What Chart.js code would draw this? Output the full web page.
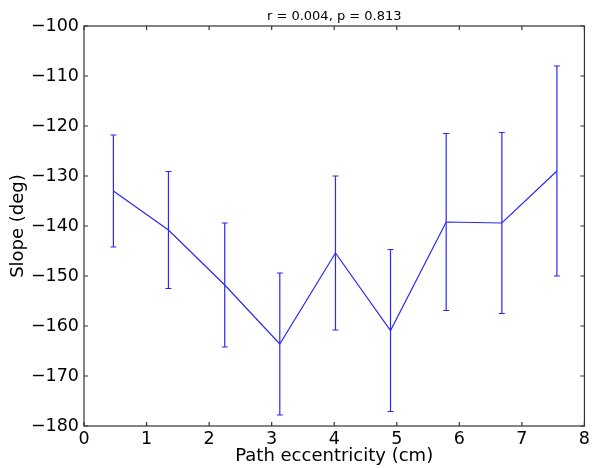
<!DOCTYPE html>
<html>
<head>
<meta charset="utf-8">
<script src="https://cdn.jsdelivr.net/npm/chart.js@4/dist/chart.umd.min.js"></script>
<style>
  html, body { margin: 0; padding: 0; background: #fff; }
  #wrap { width: 593px; height: 468px; }
</style>
</head>
<body>
<div id="wrap"><canvas id="slopeCanvas"></canvas></div>
<script>
// eccentricity bins (cm), mean slope (deg) and error half-widths
const eccentricity = [0.47, 1.35, 2.25, 3.13, 4.02, 4.9, 5.79, 6.68, 7.56];
const slopeMean = [-133.0, -140.8, -151.8, -163.6, -145.4, -160.9, -139.2, -139.4, -129.0];
const slopeErr = [11.2, 11.7, 12.4, 14.2, 15.4, 16.2, 17.7, 18.1, 21.0];
const statsTitle = 'r = 0.004, p = 0.813';

const fontFamily = '"DejaVu Sans", sans-serif';
const lineBlue = '#2a2af0';
const minus = (v) => String(v).replace('-', '\u2212');

// error bars with small caps
const errorBars = {
  id: 'errorBars',
  afterDatasetsDraw(chart) {
    const { ctx, scales: { x, y } } = chart;
    ctx.save();
    ctx.strokeStyle = lineBlue;
    ctx.lineWidth = 1.2;
    eccentricity.forEach((ex, i) => {
      const px = x.getPixelForValue(ex);
      const top = y.getPixelForValue(slopeMean[i] + slopeErr[i]);
      const bot = y.getPixelForValue(slopeMean[i] - slopeErr[i]);
      ctx.beginPath();
      ctx.moveTo(px, top);
      ctx.lineTo(px, bot);
      ctx.moveTo(px - 3, top);
      ctx.lineTo(px + 3, top);
      ctx.moveTo(px - 3, bot);
      ctx.lineTo(px + 3, bot);
      ctx.stroke();
    });
    ctx.restore();
  },
};

// box around the axes with inward ticks on all four sides,
// plus the stats line centred over the plot area
const frameTicks = {
  id: 'frameTicks',
  afterDraw(chart) {
    const { ctx, chartArea: a, scales: { x, y } } = chart;
    const len = 4;
    ctx.save();
    ctx.strokeStyle = '#333';
    ctx.lineWidth = 1.2;
    ctx.beginPath();
    x.ticks.forEach((t) => {
      const px = x.getPixelForValue(t.value);
      ctx.moveTo(px, a.bottom);
      ctx.lineTo(px, a.bottom - len);
      ctx.moveTo(px, a.top);
      ctx.lineTo(px, a.top + len);
    });
    y.ticks.forEach((t) => {
      const py = y.getPixelForValue(t.value);
      ctx.moveTo(a.left, py);
      ctx.lineTo(a.left + len, py);
      ctx.moveTo(a.right, py);
      ctx.lineTo(a.right - len, py);
    });
    ctx.stroke();
    ctx.strokeRect(a.left, a.top, a.right - a.left, a.bottom - a.top);

    ctx.fillStyle = '#000';
    ctx.font = '13px ' + fontFamily;
    ctx.textAlign = 'center';
    ctx.textBaseline = 'middle';
    ctx.fillText(statsTitle, (a.left + a.right) / 2, a.top - 9);
    ctx.restore();
  },
};

const chartdata = {
  datasets: [
    {
      data: eccentricity.map((ex, i) => ({ x: ex, y: slopeMean[i] })),
      borderColor: lineBlue,
      borderWidth: 1.2,
      pointRadius: 0,
      tension: 0,
      fill: false,
    },
  ],
};

const chartconfig = {
  type: 'line',
  data: chartdata,
  plugins: [errorBars, frameTicks],
  options: {
    responsive: true,
    maintainAspectRatio: false,
    animation: false,
    layout: { padding: { left: 0, right: 5, top: 26, bottom: 0 } },
    scales: {
      x: {
        type: 'linear',
        min: 0,
        max: 8,
        grid: { display: false, drawTicks: false },
        border: { display: false },
        ticks: {
          stepSize: 1,
          padding: 3,
          color: '#000',
          font: { family: fontFamily, size: 17.5 },
          callback: (v) => minus(v),
        },
        title: {
          display: true,
          text: 'Path eccentricity (cm)',
          color: '#000',
          font: { family: fontFamily, size: 18 },
          padding: { top: 0, bottom: 1 },
        },
        afterFit: (scale) => { scale.height = 42; },
      },
      y: {
        min: -180,
        max: -100,
        grid: { display: false, drawTicks: false },
        border: { display: false },
        ticks: {
          stepSize: 10,
          padding: 5,
          color: '#000',
          font: { family: fontFamily, size: 17.5 },
          callback: (v) => minus(v),
        },
        title: {
          display: true,
          text: 'Slope (deg)',
          color: '#000',
          font: { family: fontFamily, size: 18 },
          padding: { top: 8, bottom: 0 },
        },
        afterFit: (scale) => { scale.width = 84; },
      },
    },
    plugins: {
      legend: { display: false },
      tooltip: { enabled: false },
      title: { display: false },
    },
  },
};

const chart = new Chart('slopeCanvas', chartconfig);
</script>
</body>
</html>
